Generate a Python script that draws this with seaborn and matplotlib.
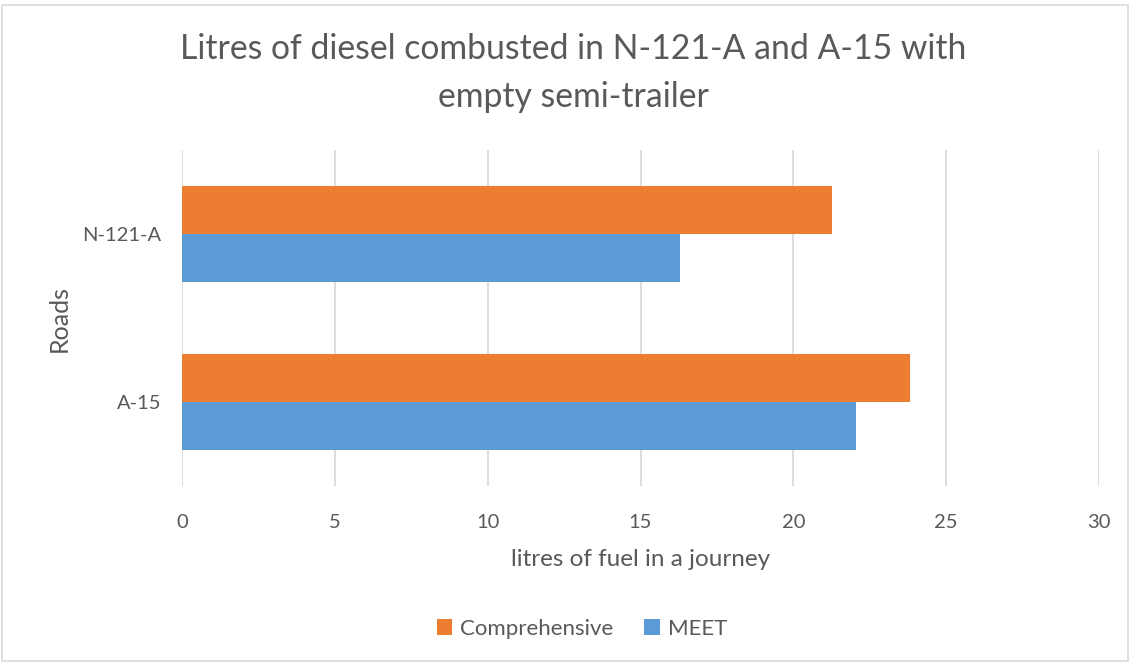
import matplotlib
matplotlib.use("Agg")
import matplotlib.pyplot as plt
import seaborn as sns
import pandas as pd
from matplotlib.patches import Rectangle, Patch

roads = ["N-121-A", "A-15"]
series = ["Comprehensive", "MEET"]
comprehensive = [21.26, 23.83]
meet = [16.30, 22.06]
x_ticks = [0, 5, 10, 15, 20, 25, 30]

df = pd.DataFrame({
    "Roads": roads * 2,
    "Method": [series[0]] * len(roads) + [series[1]] * len(roads),
    "litres": comprehensive + meet,
})

sns.set_theme(style="white")
plt.rcParams["font.family"] = ["Lato", "DejaVu Sans"]
text_color = "#595959"
colors = {"Comprehensive": "#ED7D31", "MEET": "#5B9BD5"}

fig = plt.figure(figsize=(11.32, 6.66), dpi=100)
ax = fig.add_axes([182 / 1132, 1 - 486 / 666, (1099 - 182) / 1132, (486 - 150) / 666])

sns.barplot(data=df, y="Roads", x="litres", hue="Method", order=roads,
            hue_order=series, palette=colors, orient="h", width=0.571,
            gap=0, ax=ax, legend=False, saturation=1, edgecolor="none")

ax.set_xlim(0, 30)
ax.set_xticks(x_ticks)
ax.xaxis.grid(True, color="#D9D9D9", linewidth=1.3)
ax.yaxis.grid(False)
ax.set_axisbelow(True)
for s in ax.spines.values():
    s.set_visible(False)
ax.tick_params(axis="x", length=0, pad=20, labelsize=14.5, labelcolor=text_color)
ax.tick_params(axis="y", length=0, pad=15, labelsize=14.5, labelcolor=text_color)
ax.set_xlabel("litres of fuel in a journey", fontsize=17.5, color=text_color, labelpad=13)
ax.set_ylabel("Roads", fontsize=18, color=text_color, labelpad=8)

fig.suptitle("Litres of diesel combusted in N-121-A and A-15 with\nempty semi-trailer",
             x=573 / 1132, y=1 - 33 / 666, fontsize=24.3, color=text_color,
             linespacing=1.6, va="top")

handles = [Patch(facecolor=colors[s], edgecolor="none") for s in series]
fig.legend(handles, series, loc="center", bbox_to_anchor=(582 / 1132, 1 - 629 / 666),
           ncol=2, frameon=False, fontsize=16, handlelength=0.7, handleheight=0.7,
           handletextpad=0.35, columnspacing=1.4, labelcolor=text_color)

fig.patches.append(Rectangle((2 / 1132, 5 / 666), 1126 / 1132, 656 / 666,
                             transform=fig.transFigure, fill=False,
                             edgecolor="#D9D9D9", linewidth=1.2))

fig.savefig("out.png", dpi=100, facecolor="white")
